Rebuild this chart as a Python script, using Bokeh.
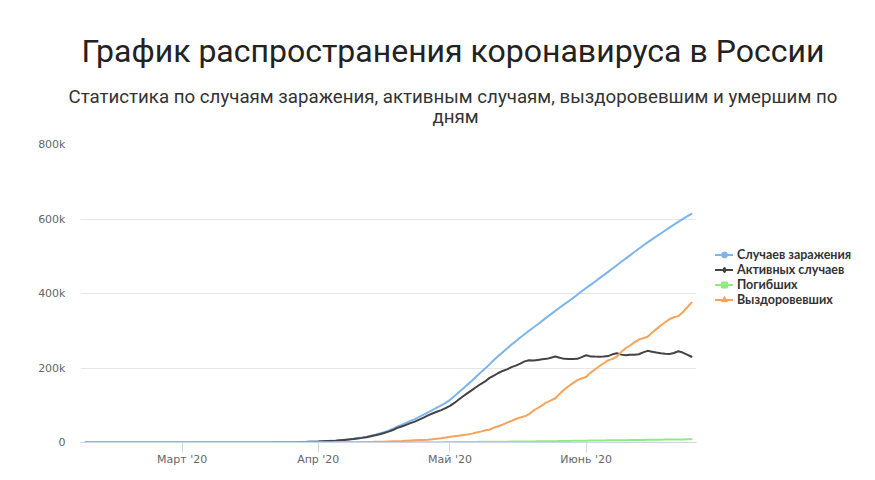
import pandas as pd
from bokeh.plotting import figure
from bokeh.models import (ColumnDataSource, FixedTicker, Legend, LegendItem, Range1d, Title)
from bokeh.embed import file_html
from bokeh.resources import INLINE

# ---------------- data (daily, from 2020-02-08) ----------------
start_date = "2020-02-08"

series_names = ["Случаев заражения", "Активных случаев", "Погибших", "Выздоровевших"]
series_colors = ["#7cb5ec", "#434348", "#90ed7d", "#f7a35c"]
series_markers = ["circle", "diamond", "square", "triangle"]

confirmed = [
    # Feb 8-29
    2, 2, 2, 2, 2, 2, 2, 2, 2, 2, 2, 2, 2, 2, 2, 2, 2, 2, 2, 2, 2, 2,
    # Mar
    2, 3, 3, 3, 4, 13, 13, 17, 17, 20, 20, 28, 45, 59, 63, 90, 114, 147, 199, 253,
    306, 367, 438, 495, 658, 840, 1036, 1264, 1534, 1836, 2337,
    # Apr
    2777, 3548, 4149, 4731, 5389, 6343, 7497, 8672, 10131, 11917, 13584, 15770,
    18328, 21102, 24490, 27938, 32008, 36793, 42853, 47121, 52763, 57999, 62773,
    68622, 74588, 80949, 87147, 93558, 99399, 106498,
    # May
    114431, 124054, 134686, 145268, 155370, 165929, 177160, 187859, 198676, 209688,
    221344, 232243, 242271, 252245, 262843, 272043, 281752, 290678, 299941, 308705,
    317554, 326448, 335882, 344481, 353427, 362342, 370680, 379051, 387623, 396575,
    405843,
    # Jun 1-25
    414878, 423186, 431715, 440538, 449256, 458102, 467073, 476043, 485253, 493657,
    502436, 511423, 520129, 528964, 537210, 545458, 553301, 561091, 569063, 576952,
    584680, 592280, 599705, 606881, 613994,
]

active = [
    # Feb 8-29
    2, 2, 2, 2, 0, 0, 0, 0, 0, 0, 0, 0, 0, 0, 0, 0, 0, 0, 0, 0, 0, 0,
    # Mar
    0, 1, 1, 1, 2, 11, 11, 15, 14, 17, 17, 25, 42, 56, 60, 85, 109, 142, 189, 243,
    293, 350, 420, 472, 626, 799, 983, 1211, 1462, 1761, 2199,
    # Apr
    2563, 3283, 3834, 4355, 4989, 5890, 6945, 8029, 9357, 11028, 12433, 14349,
    16710, 19238, 22306, 25402, 29145, 33423, 39201, 42843, 47416, 51918, 55968,
    61240, 66934, 72856, 77897, 82405, 86808, 92205,
    # May
    98131, 106193, 115311, 124047, 132592, 140589, 148927, 156991, 163866, 173467,
    179534, 186615, 192056, 196410, 202199, 206340, 211748, 217747, 220974, 220341,
    221774, 223374, 224558, 227641, 230996, 227406, 224504, 223916, 223992, 224551,
    229267,
    # Jun 1-25
    234146, 231164, 230543, 230531, 231056, 232033, 236663, 239384, 235914, 234347,
    235434, 235856, 236888, 241966, 246098, 243868, 241481, 239468, 238356, 237763,
    240225, 244851, 241522, 236000, 230225,
]

deaths = [
    # Feb 8-29
    0, 0, 0, 0, 0, 0, 0, 0, 0, 0, 0, 0, 0, 0, 0, 0, 0, 0, 0, 0, 0, 0,
    # Mar
    0, 0, 0, 0, 0, 0, 0, 0, 0, 0, 0, 0, 0, 0, 0, 0, 0, 0, 1, 1,
    1, 1, 1, 1, 3, 3, 4, 4, 8, 9, 17,
    # Apr
    24, 30, 34, 43, 45, 47, 58, 63, 76, 94, 106, 130, 148, 170, 198, 232, 273, 313,
    361, 405, 456, 513, 555, 615, 681, 747, 794, 867, 972, 1073,
    # May
    1169, 1222, 1280, 1356, 1451, 1537, 1625, 1723, 1827, 1915, 2009, 2116, 2212,
    2305, 2418, 2537, 2631, 2722, 2837, 2972, 3099, 3249, 3388, 3541, 3633, 3807,
    3968, 4142, 4374, 4555, 4693,
    # Jun 1-25
    4855, 5037, 5215, 5384, 5520, 5725, 5859, 5971, 6142, 6358, 6532, 6705, 6829,
    6948, 7091, 7284, 7478, 7660, 7841, 7992, 8111, 8206, 8359, 8513, 8605,
]

recovered = [
    # Feb 8-29
    0, 0, 0, 0, 2, 2, 2, 2, 2, 2, 2, 2, 2, 2, 2, 2, 2, 2, 2, 2, 2, 2,
    # Mar
    2, 2, 2, 2, 2, 2, 2, 2, 3, 3, 3, 3, 3, 3, 3, 5, 5, 5, 9, 9,
    12, 16, 17, 22, 29, 38, 49, 49, 64, 66, 121,
    # Apr
    190, 235, 281, 333, 355, 406, 494, 580, 698, 795, 1045, 1291, 1470, 1694, 1986,
    2304, 2590, 3057, 3291, 3873, 4891, 5568, 6250, 6767, 6973, 7346, 8456, 10286,
    11619, 13220,
    # May
    15131, 16639, 18095, 19865, 21327, 23803, 26608, 29145, 32983, 34306, 39801,
    43512, 48003, 53530, 58226, 63166, 67373, 70209, 76130, 85392, 92681, 99825,
    107936, 113299, 118798, 131129, 142208, 150993, 159257, 167469, 171883,
    # Jun 1-25
    175877, 186985, 195957, 204623, 212680, 220344, 224551, 230688, 243197, 252952,
    260470, 268862, 276412, 280050, 284021, 294306, 304342, 313963, 322866, 331197,
    336344, 339223, 349824, 362368, 375164,
]

tick_dates = ["2020-03-01", "2020-04-01", "2020-05-01", "2020-06-01"]
tick_labels = ["Март '20", "Апр '20", "Май '20", "Июнь '20"]
y_ticks = [0, 200000, 400000, 600000, 800000]
y_tick_labels = ["0", "200k", "400k", "600k", "800k"]

title_text = "График распространения коронавируса в России"
subtitle_line1 = "Статистика по случаям заражения, активным случаям, выздоровевшим и умершим по"
subtitle_line2 = "дням"

# ---------------- build ----------------
n = len(confirmed)
assert n == len(active) == len(deaths) == len(recovered)
dates = pd.date_range(start_date, periods=n, freq="D")
source = ColumnDataSource(data=dict(
    date=dates, confirmed=confirmed, active=active, deaths=deaths, recovered=recovered))


def to_ms(d):
    return int(pd.Timestamp(d).timestamp() * 1000)


DAY = 86400000
pad = 1.14 * DAY
x_start = to_ms(dates[0]) - pad
x_end = to_ms(dates[-1]) + pad

p = figure(frame_width=616, frame_height=298, x_axis_type="datetime",
           x_range=Range1d(x_start, x_end), y_range=Range1d(0, 800000),
           output_backend="svg", toolbar_location=None,
           min_border_left=80, min_border_right=179,
           min_border_top=144, min_border_bottom=38)
p.outline_line_color = None
p.background_fill_color = "white"
p.border_fill_color = "white"

cols = ["confirmed", "active", "deaths", "recovered"]
items = []
for col, name, color, marker in zip(cols, series_names, series_colors, series_markers):
    r_line = p.line("date", col, source=source, line_color=color, line_width=2,
                    line_join="round", line_cap="round")
    # legend-only marker (a single point with no value, so nothing is drawn in the plot)
    r_mark = p.scatter(x=[x_start], y=[float("nan")], marker=marker, size=8,
                       fill_color=color, line_color=color)
    items.append(LegendItem(label=name, renderers=[r_line, r_mark]))

legend = Legend(items=items, location=(19, 135), orientation="vertical",
                background_fill_alpha=0, border_line_color=None,
                padding=0, margin=0, spacing=0,
                glyph_width=18, glyph_height=15, label_height=12,
                label_standoff=4,
                label_text_font="Lato", label_text_font_size="12.5px",
                label_text_font_style="bold", label_text_color="#333333")
p.add_layout(legend, "right")

# x axis
p.xaxis.ticker = FixedTicker(ticks=[to_ms(d) for d in tick_dates])
p.xaxis.major_label_overrides = {to_ms(d): lab for d, lab in zip(tick_dates, tick_labels)}
p.xaxis.axis_line_color = "#ccd6eb"
p.xaxis.major_tick_line_color = "#ccd6eb"
p.xaxis.major_tick_in = 0
p.xaxis.major_tick_out = 10
p.xaxis.minor_tick_line_color = None
p.xaxis.major_label_standoff = 0
p.xaxis.major_label_text_font = "DejaVu Sans"
p.xaxis.major_label_text_font_size = "11px"
p.xaxis.major_label_text_color = "#666666"
p.xgrid.grid_line_color = None

# y axis
p.yaxis.ticker = FixedTicker(ticks=y_ticks)
p.yaxis.major_label_overrides = {v: lab for v, lab in zip(y_ticks, y_tick_labels)}
p.yaxis.axis_line_color = None
p.yaxis.major_tick_line_color = None
p.yaxis.major_tick_in = 0
p.yaxis.major_tick_out = 0
p.yaxis.minor_tick_line_color = None
p.yaxis.major_label_standoff = 15
p.yaxis.major_label_text_font = "DejaVu Sans"
p.yaxis.major_label_text_font_size = "11px"
p.yaxis.major_label_text_color = "#666666"
p.ygrid.ticker = FixedTicker(ticks=y_ticks)
p.ygrid.grid_line_color = "#e6e6e6"

# titles, stacked upward from the plot frame
spacer = Title(text=" ", align="left", text_font="Roboto", text_font_size="10px",
               standoff=4)
t_line2 = Title(text=subtitle_line2, align="left", offset=352, standoff=0,
                text_font="Roboto", text_font_size="18.7px", text_font_style="normal",
                text_color="#333333")
t_line1 = Title(text=subtitle_line1, align="left", offset=-12, standoff=-8,
                text_font="Roboto", text_font_size="18.7px", text_font_style="normal",
                text_color="#333333")
t_main = Title(text=title_text, align="left", offset=1, standoff=35,
               text_font="Roboto", text_font_size="32px", text_font_style="normal",
               text_color="#222222")
p.add_layout(spacer, "above")
p.add_layout(t_line2, "above")
p.add_layout(t_line1, "above")
p.add_layout(t_main, "above")

open("out.html", "w").write(file_html(p, INLINE))
